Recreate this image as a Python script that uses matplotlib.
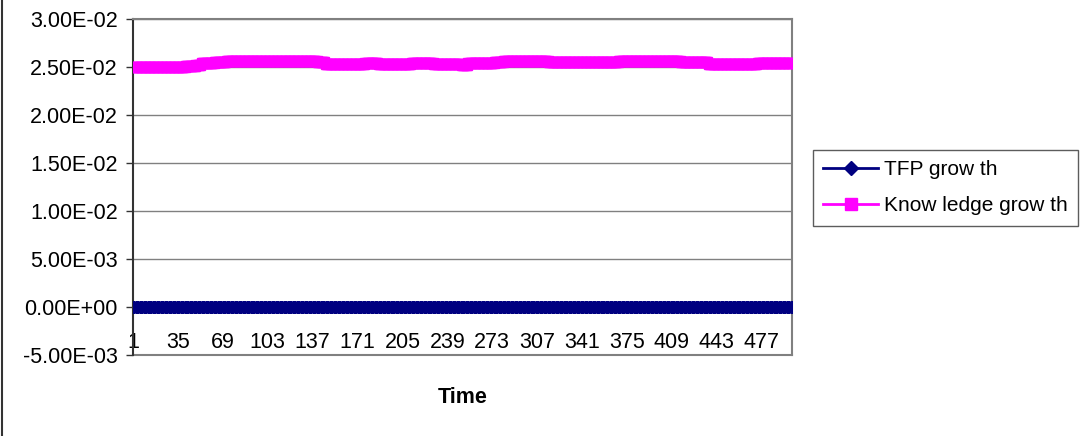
import matplotlib
matplotlib.use('Agg')
import matplotlib.pyplot as plt
from matplotlib.lines import Line2D
from matplotlib.ticker import FuncFormatter
import numpy as np

# Data (500 periods)
n_periods = 500
tfp_growth = [0.0] * n_periods

# knowledge growth: plateau levels and how many periods each one lasts
know_levels = [0.02502, 0.0251, 0.0252, 0.0254, 0.02557, 0.02563, 0.0255, 0.02531,
               0.02538, 0.02531, 0.0254, 0.02531, 0.02526, 0.0254, 0.02552, 0.02563,
               0.02555, 0.02547, 0.02563, 0.0255, 0.02531, 0.02538]
know_runs = [40, 8, 4, 10, 9, 69, 6, 30, 10, 25, 17, 21, 5, 20, 7, 34, 7, 46, 47, 21, 37, 27]

x_ticks = [1, 35, 69, 103, 137, 171, 205, 239, 273, 307, 341, 375, 409, 443, 477]
y_ticks = [-0.005, 0.0, 0.005, 0.01, 0.015, 0.02, 0.025, 0.03]

series_names = ['TFP grow th', 'Know ledge grow th']
x_label = 'Time'

plt.rcParams['font.family'] = ['Liberation Sans', 'DejaVu Sans']

periods = np.arange(1, n_periods + 1)
knowledge_growth = np.repeat(know_levels, know_runs)

fig = plt.figure(figsize=(10.8, 4.36), dpi=100)
ax = fig.add_axes([133 / 1080, 1 - 355 / 436, (792 - 133) / 1080, (355 - 19) / 436])

# gridlines
for v in y_ticks[1:]:
    ax.axhline(v, color='#808080', lw=1, zorder=1)

ax.plot(periods, tfp_growth, color='#000080', lw=2, marker='D', ms=6.6,
        mec='#000080', label=series_names[0], zorder=3)
ax.plot(periods, knowledge_growth, color='#FF00FF', lw=2, marker='s', ms=7.5,
        mec='#FF00FF', label=series_names[1], zorder=4)

ax.set_xlim(1, n_periods)
ax.set_ylim(-0.005, 0.03)
ax.set_yticks(y_ticks)
ax.yaxis.set_major_formatter(FuncFormatter(lambda v, p: f'{v:.2E}'))
ax.set_xticks(x_ticks)
ax.set_xticklabels([str(t) for t in x_ticks])

# category axis crosses at zero, plot border drawn at the bottom
ax.spines['bottom'].set_position(('data', 0))
ax.spines['bottom'].set_visible(False)
ax.axhline(-0.005, color='#808080', lw=1.5, clip_on=False, zorder=2)
ax.spines['top'].set_color('#808080')
ax.spines['right'].set_color('#808080')
ax.spines['top'].set_linewidth(1.5)
ax.spines['right'].set_linewidth(1.5)
ax.spines['left'].set_color('#333333')
ax.spines['left'].set_linewidth(1.5)

ax.tick_params(axis='y', direction='out', length=5, width=1, color='#333333',
               labelsize=15.5, pad=6)
ax.tick_params(axis='x', length=0, labelsize=15.5, pad=18)

ax.set_xlabel(x_label, fontsize=15.5, fontweight='bold')
ax.xaxis.set_label_coords(0.5, -0.095)

fig.legend(loc='upper left', bbox_to_anchor=(813 / 1080, 1 - 150 / 436),
           fontsize=15, frameon=True, fancybox=False, edgecolor='#333333',
           handlelength=2.6, handletextpad=0.3, labelspacing=0.8,
           borderpad=0.5, borderaxespad=0, markerscale=1.1)

# chart area edge at the left
fig.add_artist(Line2D([0.0015, 0.0015], [0, 1], transform=fig.transFigure,
                      color='#333333', lw=1.5))

fig.savefig('out.png', dpi=100, facecolor='white')
